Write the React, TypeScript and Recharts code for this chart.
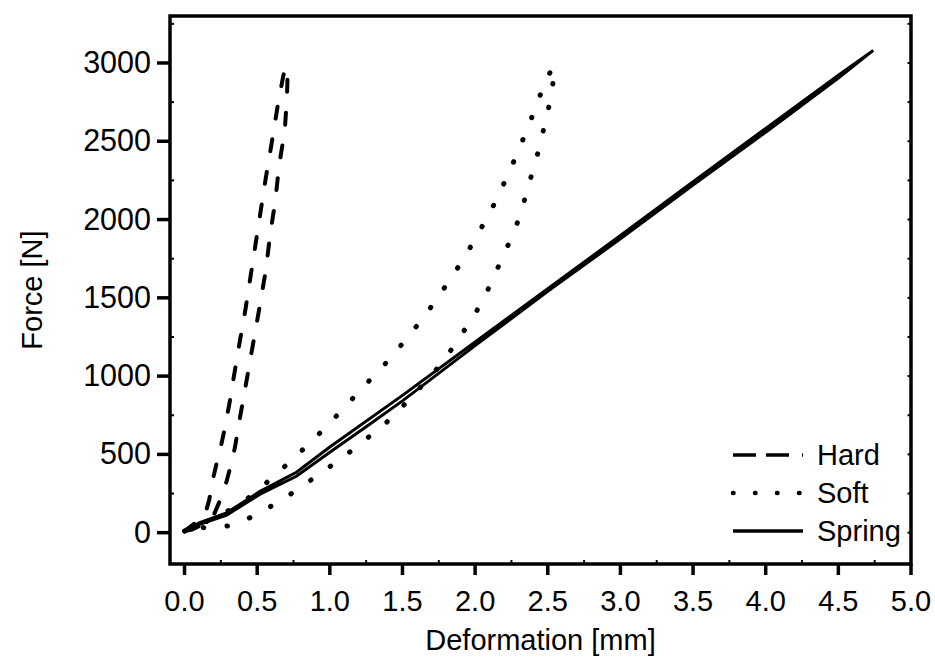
import { LineChart, Line, XAxis, YAxis, Legend, ReferenceArea } from "recharts";

const FONT = "'Liberation Sans', Arial, Helvetica, sans-serif";

// Hard specimen: loading branch up to the peak, then unloading back to zero
const hardDeformation = [
  0, 0.07, 0.14, 0.17, 0.19, 0.22, 0.25, 0.28, 0.31, 0.34, 0.38, 0.42, 0.455, 0.49, 0.525, 0.56, 0.6, 0.64, 0.68, 0.7,
  0.71, 0.705, 0.69, 0.65, 0.625, 0.59, 0.56, 0.52, 0.48, 0.44, 0.4, 0.375, 0.35, 0.33, 0.29, 0.26, 0.2, 0.12, 0.05, 0,
];
const hardForce = [
  10, 60, 110, 210, 320, 440, 550, 680, 830, 1000, 1220, 1430, 1640, 1850, 2060, 2270, 2490, 2720, 2920, 2975,
  2950, 2780, 2570, 2340, 2120, 1910, 1680, 1460, 1250, 1040, 830, 700, 560, 470, 330, 240, 110, 50, 20, 10,
];

const softDeformation = [
  0, 0.15, 0.3, 0.43, 0.578, 0.723, 0.858, 0.996, 1.13, 1.26, 1.393, 1.519, 1.634, 1.741, 1.836, 1.932, 2.013, 2.099,
  2.166, 2.235, 2.299, 2.357, 2.414, 2.467, 2.533,
  2.545, 2.533, 2.506, 2.471, 2.437, 2.395, 2.352, 2.316, 2.258, 2.196, 2.127, 2.063, 1.978, 1.879, 1.779, 1.65, 1.519,
  1.381, 1.232, 1.088, 0.946, 0.796, 0.654, 0.505, 0.365, 0.216, 0.085, 0,
];
const softForce = [
  10, 70, 140, 215, 330, 451, 569, 696, 830, 960, 1090, 1229, 1361, 1499, 1629, 1765, 1899, 2038,
  2166, 2304, 2442, 2575, 2709, 2843, 2974,
  2960, 2847, 2713, 2575, 2442, 2304, 2170, 2038, 1904, 1772, 1633, 1501, 1363, 1229, 1090, 955, 824,
  696, 585, 479, 387, 287, 200, 121, 58, 26, 36, 10,
];

const springDeformation = [
  0, 0.1, 0.29, 0.52, 0.77, 1.0, 1.5, 2.0, 2.5, 3.0, 3.5, 4.0, 4.5, 4.74,
  4.5, 4.0, 3.5, 3.0, 2.5, 2.0, 1.5, 1.25, 1.0, 0.77, 0.52, 0.29, 0.1, 0,
];
const springForce = [
  15, 63, 127, 264, 386, 547, 877, 1218, 1558, 1898, 2242, 2582, 2922, 3080,
  2903, 2558, 2221, 1877, 1541, 1195, 842, 676, 514, 360, 246, 112, 52, 15,
];

const xDomain = [-0.1, 5];
const yDomain = [-200, 3300];
const xTicks = [0, 0.25, 0.5, 0.75, 1, 1.25, 1.5, 1.75, 2, 2.25, 2.5, 2.75, 3, 3.25, 3.5, 3.75, 4, 4.25, 4.5, 4.75, 5];
const yTicks = [0, 250, 500, 750, 1000, 1250, 1500, 1750, 2000, 2250, 2500, 2750, 3000, 3250];
const seriesNames = ["Hard", "Soft", "Spring"];

const toPoints = (xs: number[], fs: number[]) => xs.map((x, i) => ({ x, f: fs[i] }));
const hardData = toPoints(hardDeformation, hardForce);
const softData = toPoints(softDeformation, softForce);
const springData = toPoints(springDeformation, springForce);

const legendDash: Record<string, string | undefined> = {
  Hard: "23 10 23 13 2 100",
  Soft: "0.5 21.5",
  Spring: undefined,
};

const isMajorX = (v: number) => Math.abs(v * 2 - Math.round(v * 2)) < 1e-6;
const isMajorY = (v: number) => v % 500 === 0;

function BottomTick(props: any) {
  const { x, y, payload } = props;
  const v = payload.value as number;
  if (!isMajorX(v)) {
    return <line x1={x} x2={x} y1={y} y2={y - 4} stroke="#000" strokeWidth={2} />;
  }
  return (
    <g>
      <line x1={x} x2={x} y1={y} y2={y + 11} stroke="#000" strokeWidth={3.5} />
      <text x={x} y={y + 47} textAnchor="middle" fontSize={29} fontFamily={FONT} fill="#000" stroke="none">
        {v.toFixed(1)}
      </text>
    </g>
  );
}

function LeftTick(props: any) {
  const { x, y, payload } = props;
  const v = payload.value as number;
  if (!isMajorY(v)) {
    return <line x1={x} x2={x + 4} y1={y} y2={y} stroke="#000" strokeWidth={2} />;
  }
  return (
    <g>
      <line x1={x - 13} x2={x} y1={y} y2={y} stroke="#000" strokeWidth={3.5} />
      <text x={x - 19} y={y + 10} textAnchor="end" fontSize={30.5} fontFamily={FONT} fill="#000" stroke="none">
        {v}
      </text>
    </g>
  );
}

function TopTick(props: any) {
  const { x, y } = props;
  return <line x1={x} x2={x} y1={y} y2={y + 3.5} stroke="#000" strokeWidth={2} />;
}

function RightTick(props: any) {
  const { x, y } = props;
  return <line x1={x - 3.5} x2={x} y1={y} y2={y} stroke="#000" strokeWidth={2} />;
}

function LegendBox({ payload }: any) {
  const entries = [...(payload ?? [])].sort(
    (a: any, b: any) => seriesNames.indexOf(a.value) - seriesNames.indexOf(b.value),
  );
  return (
    <div style={{ fontFamily: FONT, fontSize: 29, color: "#000" }}>
      {entries.map((entry: any) => (
        <div key={entry.value} style={{ display: "flex", alignItems: "center", height: 38 }}>
          <svg width={90} height={38} style={{ display: "block" }}>
            <line
              x1={6}
              x2={76}
              y1={19}
              y2={19}
              stroke="#000"
              strokeWidth={entry.value === "Soft" ? 4.5 : 3.5}
              strokeLinecap={entry.value === "Soft" ? "round" : "butt"}
              strokeDasharray={legendDash[entry.value]}
            />
          </svg>
          <span style={{ lineHeight: "38px" }}>{entry.value}</span>
        </div>
      ))}
    </div>
  );
}

export default function App() {
  return (
    <div style={{ position: "absolute", left: 0, top: 0, width: 935, height: 664, background: "#fff" }}>
      <LineChart width={935} height={664} margin={{ top: 15, right: 23, bottom: 0, left: 0 }}>
        <XAxis
          xAxisId="b"
          dataKey="x"
          type="number"
          domain={xDomain}
          allowDataOverflow
          ticks={xTicks}
          interval={0}
          height={100}
          tickSize={0}
          tickMargin={0}
          tickLine={false}
          axisLine={false}
          tick={BottomTick}
          label={{
            content: (p: any) => (
              <text
                x={p.viewBox.x + p.viewBox.width / 2}
                y={p.viewBox.y + 86}
                textAnchor="middle"
                fontSize={29}
                fontFamily={FONT}
                fill="#000"
              >
                Deformation [mm]
              </text>
            ),
          }}
        />
        <XAxis
          xAxisId="t"
          orientation="top"
          type="number"
          domain={xDomain}
          allowDataOverflow
          ticks={xTicks}
          interval={0}
          height={1}
          tickSize={0}
          tickMargin={0}
          tickLine={false}
          axisLine={false}
          tick={TopTick}
        />
        <YAxis
          yAxisId="l"
          dataKey="f"
          type="number"
          domain={yDomain}
          allowDataOverflow
          ticks={yTicks}
          interval={0}
          width={170}
          tickSize={0}
          tickMargin={0}
          tickLine={false}
          axisLine={false}
          tick={LeftTick}
          label={{
            content: (p: any) => {
              const cx = p.viewBox.x + 32;
              const cy = p.viewBox.y + p.viewBox.height / 2;
              return (
                <text
                  x={cx}
                  y={cy}
                  transform={`rotate(-90, ${cx}, ${cy})`}
                  textAnchor="middle"
                  dominantBaseline="central"
                  fontSize={29}
                  fontFamily={FONT}
                  fill="#000"
                >
                  Force [N]
                </text>
              );
            },
          }}
        />
        <YAxis
          yAxisId="r"
          orientation="right"
          type="number"
          domain={yDomain}
          allowDataOverflow
          ticks={yTicks}
          interval={0}
          width={1}
          tickSize={0}
          tickMargin={0}
          tickLine={false}
          axisLine={false}
          tick={RightTick}
        />
        {/* plot frame */}
        <ReferenceArea
          xAxisId="b"
          yAxisId="l"
          x1={xDomain[0]}
          x2={xDomain[1]}
          y1={yDomain[0]}
          y2={yDomain[1]}
          fill="none"
          stroke="#000"
          strokeWidth={3.5}
          ifOverflow="visible"
        />
        <Legend
          layout="vertical"
          align="center"
          verticalAlign="middle"
          content={<LegendBox />}
          wrapperStyle={{ left: 727, top: 436, width: 200, height: 114 }}
        />
        <Line
          xAxisId="b"
          yAxisId="l"
          name="Hard"
          data={hardData}
          dataKey="f"
          type="linear"
          stroke="#000"
          strokeWidth={4}
          strokeDasharray="12 21"
          strokeLinecap="round"
          dot={false}
          activeDot={false}
          isAnimationActive={false}
        />
        <Line
          xAxisId="b"
          yAxisId="l"
          name="Soft"
          data={softData}
          dataKey="f"
          type="linear"
          stroke="#000"
          strokeWidth={5}
          strokeDasharray="0.5 23.5"
          strokeLinecap="round"
          dot={false}
          activeDot={false}
          isAnimationActive={false}
        />
        <Line
          xAxisId="b"
          yAxisId="l"
          name="Spring"
          data={springData}
          dataKey="f"
          type="linear"
          stroke="#000"
          strokeWidth={3}
          dot={false}
          activeDot={false}
          isAnimationActive={false}
        />
      </LineChart>
    </div>
  );
}
